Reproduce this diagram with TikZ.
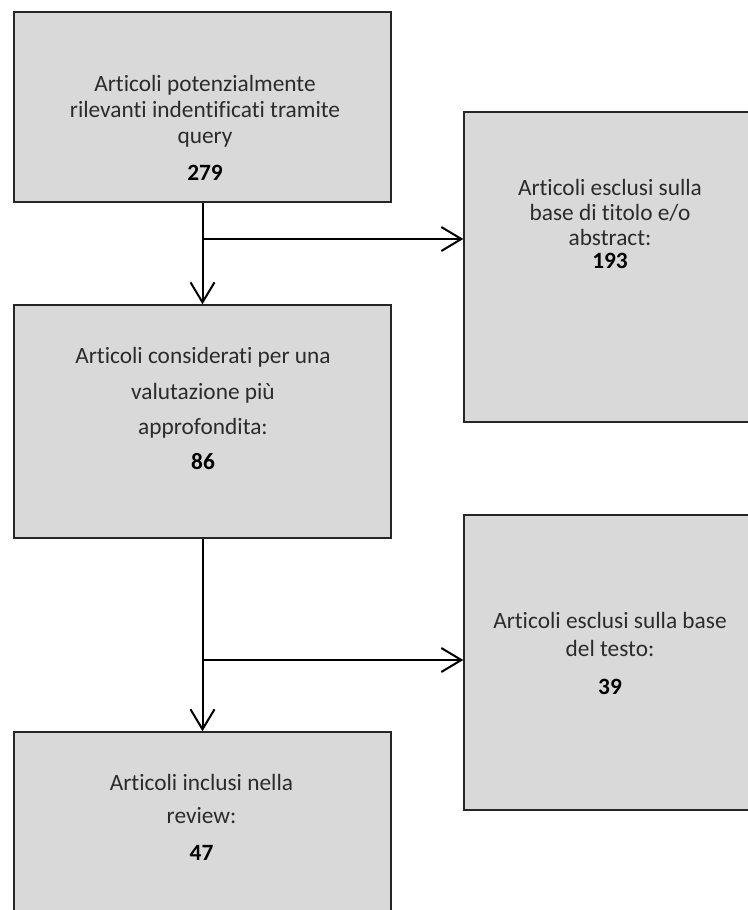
\documentclass[tikz,border=0pt]{standalone}
\usepackage{fontspec}
\setmainfont{Carlito}[Ligatures=NoCommon]
\usepackage{xcolor}
\usetikzlibrary{arrows.meta, positioning, calc}

\definecolor{boxgray}{HTML}{D9D9D9}
\definecolor{inkgray}{HTML}{2B2B2B}

\tikzset{
  box/.style={draw=black!85, line width=1.1pt, fill=boxgray, inner sep=0pt},
  txt/.style={align=center, text=inkgray, font=\fontsize{17.5}{18.75}\selectfont},
  flow/.style={line width=1.5pt, -{Straight Barb[length=15pt, width=18pt, line width=1.5pt]}},
  link/.style={line width=1.5pt}
}

\begin{document}
\begin{tikzpicture}[x=0.75pt, y=0.75pt]

\useasboundingbox (0,0) rectangle (748,-910);
\clip (0,0) rectangle (748,-910);

% --- left column ---
\node[box, minimum width=282.75pt, minimum height=142.5pt] (query) at (202.5,-107) {};
\node[box, minimum width=282.75pt, minimum height=174.75pt] (valut) at (202.5,-421.5) {};
\node[box, minimum width=282.75pt, minimum height=156pt] (incl) at (202.5,-836) {};

% --- right column (boxes run past the edge) ---
\node[box, minimum width=222pt, minimum height=232.5pt] (escl1) at (612,-267) {};
\node[box, minimum width=222pt, minimum height=221.25pt] (escl2) at (612,-662.5) {};

% texts
\node[txt] (queryt) at (205,-128) {Articoli potenzialmente\\[0.75pt]
  rilevanti indentificati tramite\\[1pt] query\\[9pt] \textbf{\color{black}279}};
\node[txt] (escl1t) at (610,-223.5) {Articoli esclusi sulla\\ base di titolo e/o\\ abstract:\\[-1.5pt]
  \textbf{\color{black}193}};
\node[txt] (valutt) at (203,-408.5) {Articoli considerati per una\\[8pt] valutazione più\\[7.5pt]
  approfondita:\\[7.5pt] \textbf{\color{black}86}};
\node[txt] (escl2t) at (610,-653.5) {Articoli esclusi sulla base\\[2pt] del testo:\\[10pt]
  \textbf{\color{black}39}};
\node[txt] (inclt) at (201.5,-817) {Articoli inclusi nella\\[6pt] review:\\[9pt]
  \textbf{\color{black}47}};

% --- connectors ---
\coordinate (j1) at (202.5,-239);
\coordinate (j2) at (202.5,-660);

\draw[flow] (query.south) -- (valut.north);
\draw[flow] (j1) -- (j1 -| escl1.west);
\draw[flow] (valut.south) -- (incl.north);
\draw[flow] (j2) -- (j2 -| escl2.west);

\end{tikzpicture}
\end{document}
